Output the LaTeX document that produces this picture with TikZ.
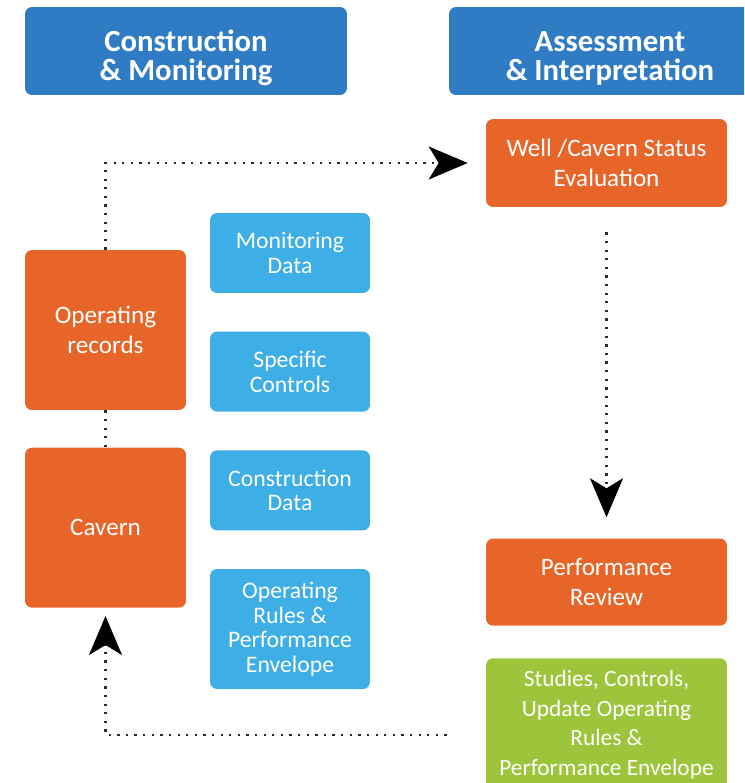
\documentclass[tikz,border=0pt]{standalone}
\usepackage{fontspec}
\setmainfont{Carlito}
\usepackage{tikz}
\usetikzlibrary{positioning,arrows.meta}

\definecolor{hdrblue}{HTML}{2F7CC4}
\definecolor{orng}{HTML}{E8652A}
\definecolor{skyblue}{HTML}{3EAEE6}
\definecolor{limegreen}{HTML}{9DC53B}
\definecolor{dotgray}{HTML}{2A2A2A}

\begin{document}
\begin{tikzpicture}[x=0.02cm,y=-0.02cm,node distance=0.76cm,
    box/.style={rectangle,rounded corners=4pt,text=white,align=center,inner sep=0pt},
    hdr/.style={box,fill=hdrblue,minimum width=6.44cm,minimum height=1.76cm,
                font=\bfseries\fontsize{17.5}{16.5}\selectfont},
    task/.style={box,fill=orng,font=\fontsize{14.3}{17}\selectfont},
    info/.style={box,fill=skyblue,minimum width=3.2cm,minimum height=1.6cm,
                 font=\fontsize{13.5}{14}\selectfont},
    todo/.style={box,fill=limegreen,font=\fontsize{13.3}{17}\selectfont},
    flow/.style={draw=dotgray,line width=1.3pt,dash pattern=on 1.3pt off 3.6pt},
    tip/.style={-{Stealth[length=0.78cm,width=0.66cm,inset=0.2cm,color=black]}}]

  \useasboundingbox (0,0) rectangle (744,783);
  \clip (0,0) rectangle (744,783);

  % headers
  \node[hdr]  (hdA) at (186,51) {\rule{0pt}{0.7cm}Construction\\\& Monitoring};
  \node[hdr]  (hdB) at (610,51) {\rule{0pt}{0.7cm}Assessment\\\& Interpretation};

  % left side
  \node[task,minimum width=3.22cm,minimum height=3.2cm] (recs) at (105.5,330) {Operating\\records};
  \node[task,minimum width=3.22cm,minimum height=3.2cm] (cavern) [below=0.74cm of recs] {Cavern};

  \node[info] (mon)   at (290,253)            {Monitoring\\Data};
  \node[info] (spec)  [below=of mon]          {Specific\\Controls};
  \node[info] (cons)  [below=of spec]         {Construction\\Data};
  \node[info,minimum height=2.4cm] (rules) [below=of cons] {Operating\\Rules \&\\Performance\\Envelope};

  % right side
  \node[task,minimum width=4.82cm,minimum height=1.76cm] (eval) at (606.5,163) {Well /Cavern Status\\Evaluation};
  \node[task,minimum width=4.82cm,minimum height=1.74cm] (perf) [below=6.62cm of eval] {Performance\\Review};
  \node[todo,minimum width=4.82cm,minimum height=2.66cm] (stud) [below=0.64cm of perf]
       {Studies, Controls,\\Update Operating\\Rules \&\\Performance Envelope};

  % dotted links
  \draw[flow,tip,shorten >=0.36cm] (recs.north) |- (eval.west);
  \draw[flow] (recs.south) -- (recs.south |- cavern.north);
  \draw[flow,tip,shorten <=0.5cm,shorten >=0.42cm] (eval.south) -- (perf.north);
  \draw[flow,tip,shorten >=0.16cm] (stud.west) ++(-39,10) -| (cavern.south);
\end{tikzpicture}
\end{document}
